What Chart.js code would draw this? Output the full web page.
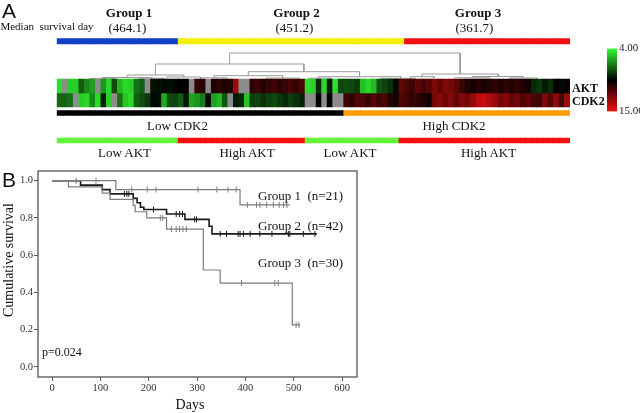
<!DOCTYPE html>
<html>
<head>
<meta charset="utf-8">
<script src="https://cdn.jsdelivr.net/npm/chart.js@4.4.0/dist/chart.umd.min.js"></script>
<style>
  body { margin: 0; background: #fff; width: 640px; height: 413px; overflow: hidden; position: relative; font-family: "Liberation Serif", serif; color: #111; }
  .box { position: absolute; }
  .t { position: absolute; white-space: pre; line-height: 1; transform: translate(-50%, -50%); }
  .l { position: absolute; white-space: pre; line-height: 1; transform: translateY(-50%); }
  .b { font-weight: bold; }
  .sans { font-family: "Liberation Sans", sans-serif; }
</style>
</head>
<body>
<div class="box" style="left:0;top:0;width:640px;height:160px"><canvas id="heat"></canvas></div>
<div class="box" style="left:600px;top:40px;width:60px;height:80px"><canvas id="scale"></canvas></div>
<div class="box" style="left:0;top:160px;width:370px;height:253px"><canvas id="km"></canvas></div>

<div class="l sans" style="left:2px;top:10px;font-size:21px">A</div>
<div class="t" style="left:47px;top:26px;font-size:11px">Median  survival day</div>
<div id="groupTitles"></div>
<div class="l b" style="left:572px;top:88px;font-size:12px">AKT</div>
<div class="l b" style="left:572px;top:101px;font-size:12px">CDK2</div>
<div id="classTitles"></div>

<div class="l sans" style="left:2px;top:179px;font-size:21px">B</div>
<div class="t" style="left:9px;top:260px;font-size:14px;transform:translate(-50%,-50%) rotate(-90deg)">Cumulative survival</div>
<div class="t" style="left:190px;top:405px;font-size:14px">Days</div>
<div class="l" style="left:42px;top:352px;font-size:12px">p=0.024</div>
<div id="kmLabels"></div>

<script>
// ---- panel A data ----
const groupNames = ['Group 1', 'Group 2', 'Group 3'];
const groupN = [21, 42, 30];
const medianDays = [464.1, 451.2, 361.7];
const groupRuns = [22, 41, 30];            // columns per group in the heatmap order
const cdk2Runs = [['Low CDK2', 52], ['High CDK2', 41]];
const aktRuns = [['Low AKT', 22], ['High AKT', 23], ['Low AKT', 17], ['High AKT', 31]];

// expression, colour scale 4.00 (green) .. 15.00 (red); null = missing (grey)
const aktValues = [
  4.6, null, 5.0, 5.0, 7.5, 6.5, 6.0, null, 6.2, 4.8, 7.8, 5.5, 4.8, 5.0, 7.0, 7.4, null, 9.1, 9.2, 9.3, 9.2, 9.4,
  9.5, 9.6, null, 10.8, 10.4, null, 10.2, 10.5, 10.1, 10.4, 13.0, null, null, 10.6, 10.9, 10.4, 10.7, 11.0, 10.5, 10.8, 11.1, 10.7, 11.2,
  4.7, 4.9, 8.6, 4.8, 8.9, 4.6, 8.0, 7.8, 7.9, 8.2, 5.3, 4.8, 5.4, 7.7, 8.0, 8.4, 9.3,
  11.6, 11.2, 11.0, 11.7, 11.1, 11.5, 12.3, 11.8, 12.5, 12.2, 11.6, 10.8, 10.2, 10.0, 10.4, 10.1, 10.3, 10.6, 10.2, 10.5, 10.3, 10.6, 10.2, 10.0, 8.6, 8.3, 9.0, 8.5, 9.6, 9.3, 9.7
];
const cdk2Values = [
  7.2, 7.3, 7.0, null, 5.0, 4.8, 6.5, 4.7, 8.8, 4.9, null, 7.0, 5.2, 4.7, 7.4, 7.8, 8.3, 9.3, 9.2, 5.8, 7.8, 8.0,
  7.5, 8.9, 5.9, 6.2, 6.8, 9.3, 6.0, 5.5, 7.6, null, 8.9, 8.6, 5.2, 8.2, 8.0, 8.4, 8.1, 7.9, 8.3, 8.6, 8.2, 8.4, 8.8,
  null, null, 9.4, null, 9.5, null, null, 11.0, 10.6, 11.4, 11.2, 10.8, 11.5, 10.9, 11.2, 10.3, 10.0,
  11.3, 11.0, 10.7, 10.5, 10.2, 9.8, 12.2, 12.6, 12.0, 12.4, 11.8, 12.6, 12.2, 12.9, 13.8, 14.1, 13.4, 13.0, 12.2, 12.6, 11.8, 12.1, 11.4, 11.7, 11.2, 11.0, 12.4, 11.5, 12.8, 11.2, 13.0
];
const colorRange = [4, 15];

// dendrogram links: [left x, right x, merge height, left child height, right child height] (x in column units)
const dendroLinks = [
  [29.65, 76.05, 26, 15, 5],
  [14.7, 44.6, 15, 4, 7.3],
  [9, 20.4, 4, 1.5, 2],
  [4, 14, 1.5, 0.6, 0.8],
  [17, 23.8, 2, 0.7, 0.5],
  [33.4, 55.8, 7.3, 3.3, 2.3],
  [26.5, 40.3, 3.3, 1.2, 1.0],
  [24, 29, 1.2, 0.4, 0.4],
  [37, 43.6, 1.0, 0.4, 0.5],
  [47.5, 64.1, 2.3, 0.8, 0.6],
  [68.4, 83.7, 5, 2.3, 2.5],
  [66, 70.8, 2.3, 0.8, 1.0],
  [78.5, 88.8, 2.5, 1.2, 1.0],
  [75, 82, 1.2, 0.5, 0.4],
  [86, 91.6, 1.0, 0.4, 0.3],
  [1.5, 6.5, 0.6, 0, 0],
  [11.5, 16.5, 0.8, 0, 0],
  [45.5, 50, 0.8, 0, 0],
  [60, 67, 0.6, 0, 0]
];

// ---- panel B data (Kaplan-Meier steps: [day, survival after day]) ----
const g1Steps = [[0, 1], [132, 0.952], [389, 0.87], [492, 0.87]];
const g2Steps = [[0, 1], [59, 0.976], [104, 0.952], [120, 0.929], [168, 0.905], [176, 0.881], [183, 0.857], [190, 0.845],
  [237, 0.821], [275, 0.792], [325, 0.755], [331, 0.714], [548, 0.714]];
const g3Steps = [[0, 1], [34, 0.967], [104, 0.933], [120, 0.9], [168, 0.867], [172, 0.833], [196, 0.8], [237, 0.74],
  [313, 0.52], [348, 0.45], [497, 0.225], [513, 0.225]];
const g1Censor = [50, 91, 165, 197, 215, 302, 341, 364, 381, 404, 423, 430, 444, 458, 470, 479, 486];
const g2Censor = [150, 155, 159, 210, 257, 264, 270, 295, 299, 348, 361, 385, 389, 396, 410, 430, 455, 489, 492, 520, 544];
const g3Censor = [224, 229, 247, 257, 264, 271, 278, 392, 461, 468, 505, 511];
const dayTicks = [0, 100, 200, 300, 400, 500, 600];
const survivalTicks = [0, 0.2, 0.4, 0.6, 0.8, 1.0];

// ---- layout (pixels) ----
const bandY = { group: [38.5, 44], akt: [79, 93], cdk2: [93, 107], cdk2Class: [110.5, 115.5], aktClass: [138, 143] };
const groupColors = ['#1240c4', '#f6f000', '#f01010'];
const cdk2ClassColors = { 'Low CDK2': '#000000', 'High CDK2': '#ff9a00' };
const aktClassColors = { 'Low AKT': '#62f53a', 'High AKT': '#f51010' };

const serif = 'Liberation Serif';
const nCols = aktValues.length;
const samples = aktValues.map((v, i) => 'S' + (i + 1));

function heatColor(v) {
  if (v === null) return '#8c8c8c';
  const mid = (colorRange[0] + colorRange[1]) / 2, half = (colorRange[1] - colorRange[0]) / 2;
  const t = Math.min(1, Math.abs(v - mid) / half);
  if (v < mid) return `rgb(${Math.round(50 * t)},${Math.round(250 * t)},${Math.round(50 * t)})`;
  return `rgb(${Math.round(240 * t)},${Math.round(15 * t)},${Math.round(15 * t)})`;
}
function expandRuns(runs, colorFor) {
  const out = [];
  runs.forEach((r, i) => { for (let k = 0; k < r[1]; k++) out.push(colorFor(r, i)); });
  return out;
}
function band(colors, yr) {
  return { data: samples.map(() => yr), backgroundColor: colors, borderWidth: 0 };
}

const groupCol = expandRuns(groupRuns.map(n => [null, n]), (r, i) => groupColors[i]);
const cdk2Col = expandRuns(cdk2Runs, r => cdk2ClassColors[r[0]]);
const aktCol = expandRuns(aktRuns, r => aktClassColors[r[0]]);

const dendroBase = bandY.akt[0];
const dendroPoints = [];
dendroLinks.forEach(([x1, x2, h, h1, h2]) => {
  dendroPoints.push({ x: x1, y: dendroBase - h1 }, { x: x1, y: dendroBase - h },
    { x: x2, y: dendroBase - h }, { x: x2, y: dendroBase - h2 }, { x: x2, y: null });
});

new Chart(document.getElementById('heat'), {
  type: 'bar',
  data: {
    labels: samples,
    datasets: [
      band(groupCol, bandY.group),
      band(aktValues.map(heatColor), bandY.akt),
      band(cdk2Values.map(heatColor), bandY.cdk2),
      band(cdk2Col, bandY.cdk2Class),
      band(aktCol, bandY.aktClass),
      { type: 'line', xAxisID: 'xd', data: dendroPoints, borderColor: '#9a9a9a', borderWidth: 1,
        pointRadius: 0, spanGaps: false, fill: false }
    ]
  },
  options: {
    animation: false, responsive: true, maintainAspectRatio: false,
    layout: { padding: { left: 56.7, right: 70, top: 0, bottom: 0 } },
    plugins: { legend: { display: false }, tooltip: { enabled: false } },
    datasets: { bar: { grouped: false, barPercentage: 1, categoryPercentage: 1 } },
    scales: {
      x: { display: false, offset: true },
      xd: { type: 'linear', display: false, min: 0, max: nCols },
      y: { display: false, min: 0, max: 160, reverse: true }
    }
  }
});

// colour key
new Chart(document.getElementById('scale'), {
  type: 'bar',
  data: {
    labels: ['key'],
    datasets: [{
      data: [colorRange],
      barPercentage: 1, categoryPercentage: 1, borderWidth: 0,
      backgroundColor: (c) => {
        const ch = c.chart;
        if (!ch.chartArea) return '#000';
        const y = ch.scales.y;
        const g = ch.ctx.createLinearGradient(0, y.getPixelForValue(colorRange[0]), 0, y.getPixelForValue(colorRange[1]));
        g.addColorStop(0, heatColor(colorRange[0]));
        g.addColorStop(0.5, heatColor((colorRange[0] + colorRange[1]) / 2));
        g.addColorStop(1, heatColor(colorRange[1]));
        return g;
      }
    }]
  },
  options: {
    animation: false, responsive: true, maintainAspectRatio: false,
    layout: { padding: { left: 7, right: 0, top: 0, bottom: 0 } },
    plugins: { legend: { display: false }, tooltip: { enabled: false } },
    scales: {
      x: { display: false },
      y: {
        position: 'right', min: colorRange[0], max: colorRange[1], reverse: true,
        grid: { display: false, drawTicks: false }, border: { display: false },
        afterBuildTicks: (a) => { a.ticks = colorRange.map(v => ({ value: v })); },
        afterFit: (a) => { a.width = 43; },
        ticks: { callback: (v) => v.toFixed(2), font: { family: serif, size: 11 }, color: '#222', padding: 2 }
      }
    }
  }
});

// ---- panel B ----
function levelAt(steps, t) {
  let s = steps[0][1];
  steps.forEach(p => { if (p[0] <= t) s = p[1]; });
  return s;
}
function stepLine(steps, color, width) {
  return { type: 'line', data: steps.map(p => ({ x: p[0], y: p[1] })), stepped: true,
    borderColor: color, borderWidth: width, pointRadius: 0, fill: false };
}
function censorMarks(times, steps, color) {
  return { type: 'scatter', data: times.map(t => ({ x: t, y: levelAt(steps, t) })),
    pointStyle: 'line', rotation: 90, radius: 3, borderColor: color, borderWidth: 1, backgroundColor: color };
}
const lineColors = ['#7c7c7c', '#1a1a1a', '#7c7c7c'];

const framePlugin = {
  id: 'frame',
  afterDatasetsDraw(chart) {
    const { ctx, chartArea: a } = chart;
    ctx.save();
    ctx.strokeStyle = '#555';
    ctx.lineWidth = 1.3;
    ctx.strokeRect(a.left, a.top, a.right - a.left, a.bottom - a.top);
    ctx.restore();
  }
};
const tickFont = { family: serif, size: 10.5 };

new Chart(document.getElementById('km'), {
  type: 'line',
  data: {
    datasets: [
      stepLine(g1Steps, lineColors[0], 1.2),
      stepLine(g3Steps, lineColors[2], 1.2),
      stepLine(g2Steps, lineColors[1], 1.6),
      censorMarks(g1Censor, g1Steps, lineColors[0]),
      censorMarks(g3Censor, g3Steps, lineColors[2]),
      censorMarks(g2Censor, g2Steps, lineColors[1])
    ]
  },
  options: {
    animation: false, responsive: true, maintainAspectRatio: false,
    layout: { padding: { left: 0, right: 13, top: 11, bottom: 0 } },
    plugins: { legend: { display: false }, tooltip: { enabled: false } },
    scales: {
      x: {
        type: 'linear', min: -29, max: 631,
        afterBuildTicks: (a) => { a.ticks = dayTicks.map(v => ({ value: v })); },
        afterFit: (a) => { a.height = 36; },
        grid: { drawOnChartArea: false, drawTicks: true, tickLength: 4, color: '#555' },
        border: { display: false },
        ticks: { font: tickFont, color: '#333', padding: 1, maxRotation: 0 }
      },
      y: {
        type: 'linear', min: -0.055, max: 1.052,
        afterBuildTicks: (a) => { a.ticks = survivalTicks.map(v => ({ value: v })); },
        afterFit: (a) => { a.width = 38; },
        grid: { drawOnChartArea: false, drawTicks: true, tickLength: 4, color: '#555' },
        border: { display: false },
        ticks: { font: tickFont, color: '#333', padding: 1, callback: (v) => v.toFixed(1) }
      }
    }
  },
  plugins: [framePlugin]
});

// ---- text built from the data ----
const titleX = [129, 296.5, 478];
const medianX = [127.5, 294.5, 474.5];
let html = '';
groupNames.forEach((g, i) => {
  html += `<div class="t b" style="left:${titleX[i]}px;top:12px;font-size:13px">${g}</div>`;
  html += `<div class="t" style="left:${medianX[i]}px;top:27px;font-size:13px">(${medianDays[i].toFixed(1)})</div>`;
});
document.getElementById('groupTitles').innerHTML = html;

const cdk2LabelX = [177.5, 454];
const aktLabelX = [124.5, 247, 350, 488.5];
html = '';
cdk2Runs.forEach((r, i) => { html += `<div class="t" style="left:${cdk2LabelX[i]}px;top:125px;font-size:13px">${r[0]}</div>`; });
aktRuns.forEach((r, i) => { html += `<div class="t" style="left:${aktLabelX[i]}px;top:152px;font-size:13px">${r[0]}</div>`; });
document.getElementById('classTitles').innerHTML = html;

const kmLabelY = [195, 225, 262];
html = '';
groupNames.forEach((g, i) => {
  html += `<div class="l" style="left:258px;top:${kmLabelY[i]}px;font-size:13px">${g}  (n=${groupN[i]})</div>`;
});
document.getElementById('kmLabels').innerHTML = html;
</script>
</body>
</html>
